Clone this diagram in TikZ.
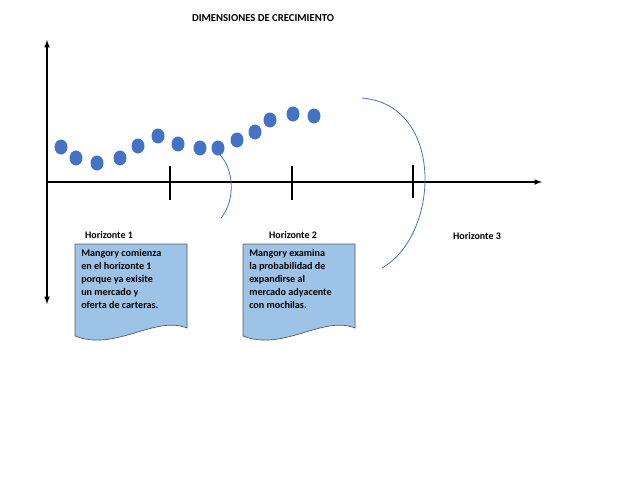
\documentclass[tikz,border=0pt]{standalone}
\usepackage{fontspec}
\setmainfont{Carlito}
\definecolor{dotblue}{RGB}{68,114,196}
\definecolor{docfill}{RGB}{157,195,230}
\begin{document}
\begin{tikzpicture}[x=0.75pt,y=-0.75pt,
  dot/.style={fill=dotblue},
  docbox/.style={fill=docfill,draw=black!65,line width=0.5pt},
  lbl/.style={font=\bfseries\fontsize{7.5}{9}\selectfont},
  doctext/.style={font=\bfseries\fontsize{7.6}{9.8}\selectfont,align=left,anchor=north west,inner sep=0pt},
  arcline/.style={draw=dotblue,line width=0.6pt}]
\useasboundingbox (0,0) rectangle (629,480);
\node[font=\bfseries\fontsize{8}{10}\selectfont] (title) at (263,18) {DIMENSIONES DE CRECIMIENTO};
% axes
\coordinate (o) at (47,182);
\coordinate (top) at (47,40);
\coordinate (bot) at (47,304);
\coordinate (right) at (542,182);
\draw[-latex,line width=0.9pt] (o) -- (top);
\draw[-latex,line width=0.9pt] (o) -- (bot);
\draw[-latex,line width=0.9pt] (o) -- (right);
\foreach \x/\a/\b in {170/166/200,292/166/200,413/165/198}
  \draw[line width=1pt] (\x,\a) -- (\x,\b);
% dots
\foreach \x/\y in {61/147,76/158,97/163,120/158,138/146,158/136,178/144,200/148,218/148,237/140,255/132,270/120,293/114,314/116}
  \fill[dot] (\x,\y) ellipse (6.5 and 7.5);
% arcs
\coordinate (a1s) at (219,154);
\coordinate (a1e) at (221,218);
\draw[arcline] (a1s) .. controls (234,168) and (236,200) .. (a1e);
\coordinate (a2s) at (362,98);
\coordinate (a2e) at (382,268);
\draw[arcline] (a2s) .. controls (445,105) and (440,235) .. (a2e);
% labels
\node[lbl] (h1) at (109,235) {Horizonte 1};
\node[lbl] (h2) at (293,235) {Horizonte 2};
\node[lbl] (h3) at (477,236) {Horizonte 3};
% documents
\foreach \x in {75,243}{
  \draw[docbox] (\x,244) -- (\x+112,244) -- (\x+112,328)
    .. controls (\x+80,315) and (\x+40,352) .. (\x,336) -- cycle;
}
\node[doctext] (t1) at (81,249) {Mangory comienza\\en el horizonte 1\\porque ya exisite\\un mercado y\\oferta de carteras.};
\node[doctext] (t2) at (249,249) {Mangory examina\\la probabilidad de\\expandirse al\\mercado adyacente\\con mochilas.};
\end{tikzpicture}
\end{document}
